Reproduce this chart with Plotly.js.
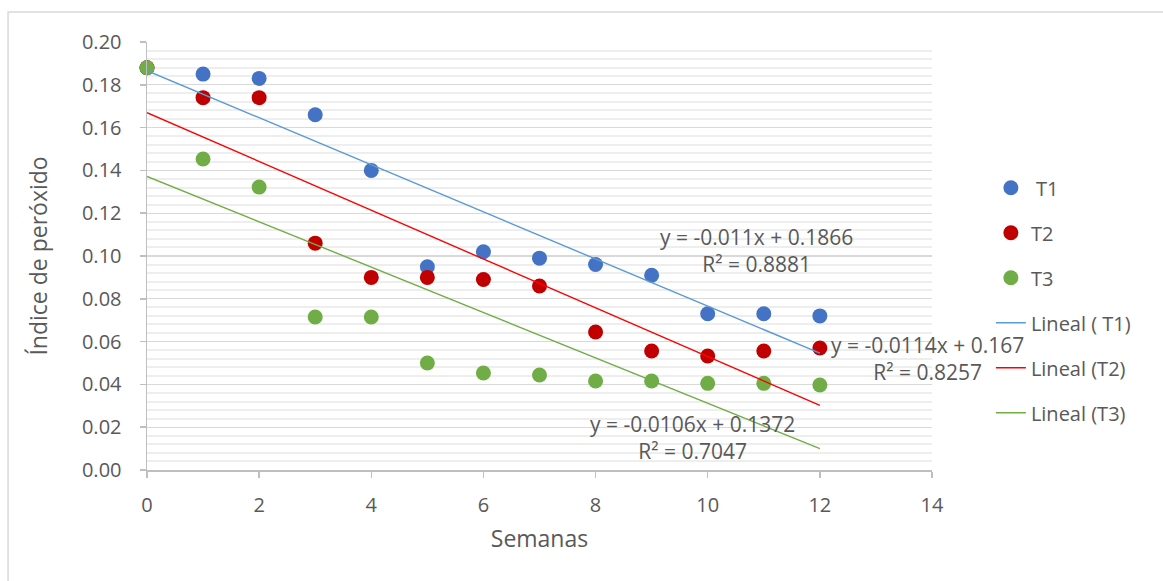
<!DOCTYPE html>
<html>
<head>
<meta charset="utf-8">
<script src="https://cdn.plot.ly/plotly-3.0.1.min.js"></script>
<style>
  html, body { margin: 0; padding: 0; background: #ffffff; }
  #chart { width: 1163px; height: 581px; }
</style>
</head>
<body>
<div id="chart"></div>
<script>
// Peroxide index measured weekly for three treatments
const semanas = [0, 1, 2, 3, 4, 5, 6, 7, 8, 9, 10, 11, 12];
const t1 = [0.188, 0.185, 0.183, 0.166, 0.140, 0.095, 0.102, 0.099, 0.096, 0.091, 0.073, 0.073, 0.072];
const t2 = [0.188, 0.174, 0.174, 0.106, 0.090, 0.090, 0.089, 0.086, 0.0645, 0.0556, 0.0533, 0.0556, 0.057];
const t3 = [0.188, 0.1453, 0.1322, 0.0715, 0.0715, 0.050, 0.0453, 0.0444, 0.0416, 0.0416, 0.0405, 0.0405, 0.0397];

const seriesNames = [' T1', 'T2', 'T3'];
const trendNames = ['Lineal ( T1)', 'Lineal (T2)', 'Lineal (T3)'];

// Linear trendline coefficients and fit quality
const slopes = [-0.011, -0.0114, -0.0106];
const intercepts = [0.1866, 0.167, 0.1372];
const r2 = ['0.8881', '0.8257', '0.7047'];
const trendRange = [0, 12];

const markerColors = ['#4472C4', '#C00000', '#70AD47'];
const lineColors = ['#5B9BD5', '#FF0000', '#70AD47'];
const font = 'Open Sans, Lato, sans-serif';
const textColor = '#595959';

const values = [t1, t2, t3];
const traces = [];

values.forEach((ys, i) => {
  traces.push({
    x: semanas, y: ys, type: 'scatter', mode: 'markers',
    name: seriesNames[i], legendgroup: 's' + i,
    cliponaxis: false,
    marker: { color: markerColors[i], size: 15, line: { width: 0 } },
    hoverinfo: 'x+y'
  });
});

values.forEach((ys, i) => {
  const ty = trendRange.map(x => slopes[i] * x + intercepts[i]);
  traces.push({
    x: trendRange, y: ty, type: 'scatter', mode: 'lines',
    name: trendNames[i], legendgroup: 'l' + i,
    line: { color: lineColors[i], width: 1.4 },
    hoverinfo: 'skip'
  });
});

function eqText(i) {
  const s = slopes[i] < 0 ? '-' + Math.abs(slopes[i]) : String(slopes[i]);
  return 'y = ' + s + 'x + ' + intercepts[i] + '<br>R² = ' + r2[i];
}

// Equation labels placed beside their trendlines
const eqPos = [[10.87, 0.1028], [13.92, 0.0519], [9.73, 0.0152]];
const annotations = eqPos.map((p, i) => ({
  x: p[0], y: p[1], xref: 'x', yref: 'y',
  text: eqText(i), showarrow: false, align: 'center',
  xanchor: 'center', yanchor: 'middle',
  font: { family: font, size: 21, color: textColor }
}));

const layout = {
  width: 1163, height: 581,
  margin: { l: 147, r: 231, t: 42, b: 111 },
  paper_bgcolor: '#ffffff', plot_bgcolor: '#ffffff',
  font: { family: font, color: textColor, size: 20 },
  showlegend: true,
  legend: {
    x: 1.075, y: 0.705, xanchor: 'left', yanchor: 'top',
    font: { family: font, size: 20, color: textColor },
    tracegroupgap: 16, bgcolor: 'rgba(0,0,0,0)'
  },
  xaxis: {
    range: [0, 14], dtick: 2, tick0: 0,
    showgrid: false, zeroline: false,
    showline: true, linecolor: '#bfbfbf', linewidth: 1.5,
    ticks: 'outside', ticklen: 6, tickcolor: '#bfbfbf', tickwidth: 1.5,
    ticklabelstandoff: 10,
    tickfont: { family: font, size: 20, color: textColor },
    title: { text: 'Semanas', standoff: 14, font: { family: font, size: 23, color: textColor } }
  },
  yaxis: {
    range: [0, 0.2], dtick: 0.02, tick0: 0, tickformat: '.2f',
    showgrid: true, gridcolor: '#d9d9d9', gridwidth: 1.3,
    zeroline: false,
    showline: true, linecolor: '#bfbfbf', linewidth: 1.5,
    ticks: 'outside', ticklen: 6, tickcolor: '#bfbfbf', tickwidth: 1.5,
    ticklabelstandoff: 14,
    tickfont: { family: font, size: 20, color: textColor },
    minor: { dtick: 0.004, showgrid: true, gridcolor: '#eeeeee', gridwidth: 2, ticks: '' },
    title: { text: 'Índice de peróxido', standoff: 28, font: { family: font, size: 23, color: textColor } }
  },
  annotations: annotations,
  shapes: [{
    type: 'rect', xref: 'paper', yref: 'paper',
    x0: -0.177, x1: 1.30, y0: -0.40, y1: 1.070,
    line: { color: '#d9d9d9', width: 1.5 }, layer: 'below'
  }]
};

Plotly.newPlot('chart', traces, layout, { displayModeBar: false, staticPlot: true });
</script>
</body>
</html>
